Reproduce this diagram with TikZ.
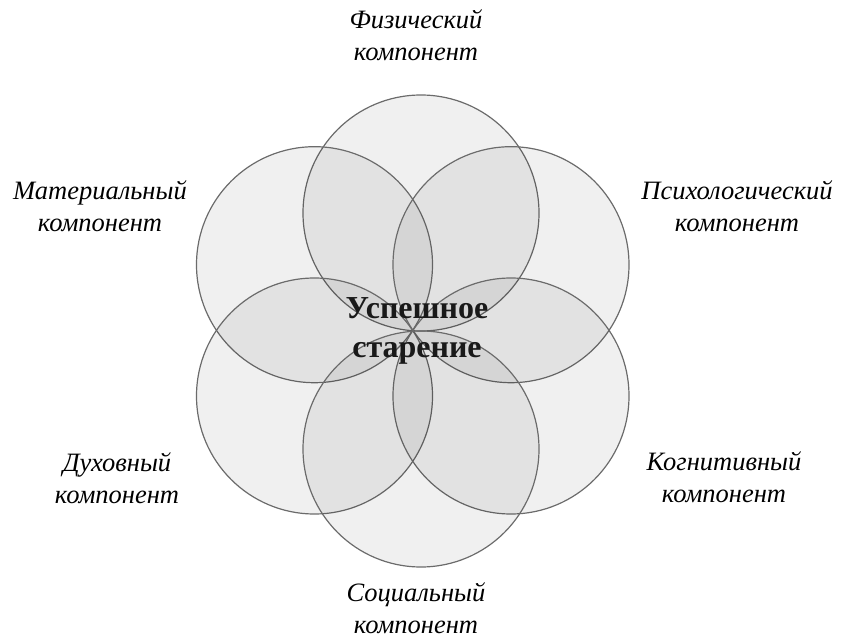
\documentclass[tikz,border=0pt]{standalone}
\usepackage{fontspec}
\setmainfont{Liberation Serif}
\tikzset{
  petal/.style={draw=black!58, line width=1.2pt, fill=black, fill opacity=0.06, draw opacity=1},
  part/.style={align=center, font=\fontsize{26.5}{32.5}\selectfont\itshape, inner sep=0pt},
  core/.style={align=center, font=\fontsize{32}{39}\selectfont\bfseries, text=black!90, inner sep=0pt}
}
\begin{document}
\begin{tikzpicture}[x=1pt,y=-1pt]
     \useasboundingbox (0,0) rectangle (841,639);
     \filldraw[petal] (421, 213) circle (118);
     \filldraw[petal] (314.5, 264.7) circle (118);
     \filldraw[petal] (511, 264.7) circle (118);
     \filldraw[petal] (314.5, 396) circle (118);
     \filldraw[petal] (511, 396) circle (118);
     \filldraw[petal] (421, 449) circle (118);

     \node[part] (phys) at (416, 35) {Физический\\компонент};
     \node[part] (psych) at (737, 206) {Психологический\\компонент};
     \node[part] (cogn) at (724, 477) {Когнитивный\\компонент};
     \node[part] (soc) at (416, 608) {Социальный\\компонент};
     \node[part] (spir) at (117, 478) {Духовный\\компонент};
     \node[part] (mat) at (100, 206) {Материальный\\компонент};
     \node[core] (ageing) at (417, 331) {Успешное\\старение};
   \end{tikzpicture}
\end{document}
